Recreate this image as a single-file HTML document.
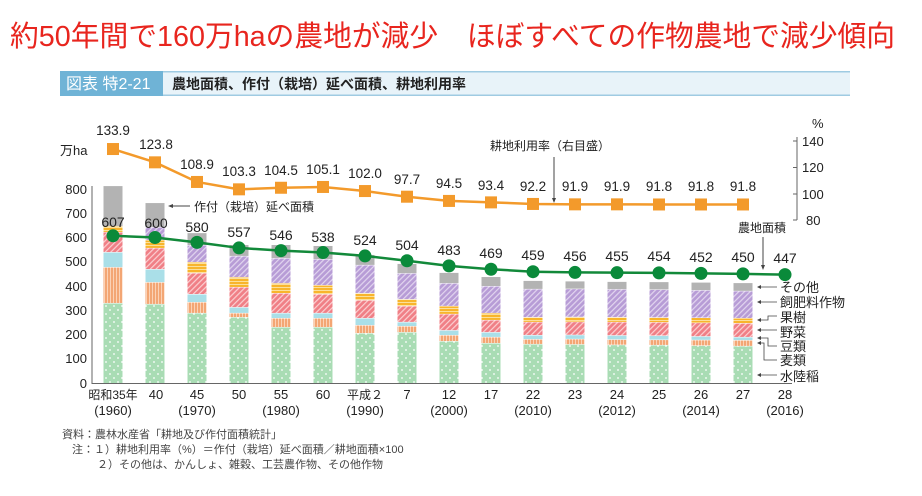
<!DOCTYPE html>
<html><head><meta charset="utf-8"><style>
body{margin:0;background:#fff;width:922px;height:496px;overflow:hidden;font-family:"Liberation Sans","Noto Sans CJK JP",sans-serif}
svg{display:block}
</style></head><body>
<svg id="s" width="922" height="496" xmlns="http://www.w3.org/2000/svg" font-family="Liberation Sans, Noto Sans CJK JP, sans-serif">
<defs>
<pattern id="pR" width="8" height="8" patternUnits="userSpaceOnUse"><rect width="8" height="8" fill="#a9dcb4"/><circle cx="2" cy="2" r="0.9" fill="#fff"/><circle cx="6" cy="6" r="0.9" fill="#fff"/></pattern>
<pattern id="pW" width="3" height="4" patternUnits="userSpaceOnUse"><rect width="3" height="4" fill="#f3a674"/><rect x="2" width="1" height="4" fill="#fbd2b6"/></pattern>
<pattern id="pB" width="4" height="4" patternUnits="userSpaceOnUse"><rect width="4" height="4" fill="#aadfe8"/></pattern>
<pattern id="pV" width="4" height="4" patternUnits="userSpaceOnUse" patternTransform="rotate(45)"><rect width="4" height="4" fill="#f07f86"/><rect width="1.2" height="4" fill="#fbd0d2"/></pattern>
<pattern id="pF" width="4" height="3" patternUnits="userSpaceOnUse"><rect width="4" height="3" fill="#f8b52c"/><rect y="2" width="4" height="1" fill="#fbe09a"/></pattern>
<pattern id="pD" width="4" height="4" patternUnits="userSpaceOnUse" patternTransform="rotate(45)"><rect width="4" height="4" fill="#b79cd6"/><rect width="1.2" height="4" fill="#e2d6ef"/></pattern>
</defs>
<text x="10" y="46" font-size="29" fill="#e8251e" textLength="885" lengthAdjust="spacingAndGlyphs">約50年間で160万haの農地が減少　ほぼすべての作物農地で減少傾向</text>
<rect x="60" y="71" width="790" height="25" fill="#e8f3f9"/>
<rect x="60" y="71" width="790" height="1.5" fill="#9fcbe2"/>
<rect x="60" y="94.5" width="790" height="1.5" fill="#9fcbe2"/>
<rect x="60" y="71" width="103" height="25" fill="#6fb3d6"/>
<text x="66" y="89" font-size="16" fill="#fff">図表 特2-21</text>
<text x="172" y="89" font-size="14" fill="#222" font-weight="bold">農地面積、作付（栽培）延べ面積、耕地利用率</text>
<g id="bars"></g>
<g font-size="13" fill="#222" text-anchor="end">
<text x="87" y="388">0</text><text x="87" y="363">100</text><text x="87" y="339">200</text><text x="87" y="315">300</text><text x="87" y="291">400</text><text x="87" y="266">500</text><text x="87" y="242">600</text><text x="87" y="218">700</text><text x="87" y="194">800</text>
</g>
<text x="60" y="155" font-size="13" fill="#222">万ha</text>
<line x1="92" y1="186" x2="92" y2="384" stroke="#666"/>
<line x1="92" y1="383.5" x2="792" y2="383.5" stroke="#666"/>
<line x1="797" y1="137" x2="797" y2="220" stroke="#666"/>
<g stroke="#666"><line x1="793" y1="141" x2="797" y2="141"/><line x1="793" y1="167.5" x2="797" y2="167.5"/><line x1="793" y1="194" x2="797" y2="194"/><line x1="793" y1="220" x2="797" y2="220"/></g>
<g font-size="13" fill="#222"><text x="802" y="146">140</text><text x="802" y="172">120</text><text x="802" y="199">100</text><text x="806" y="225">80</text><text x="812" y="128">%</text></g>
<g id="lines"></g>
<g font-size="13.5" fill="#222" text-anchor="middle">
<text x="113" y="135">133.9</text><text x="156" y="149">123.8</text><text x="197" y="169">108.9</text><text x="239" y="176">103.3</text><text x="281" y="175">104.5</text><text x="323" y="174">105.1</text><text x="365" y="178">102.0</text><text x="407" y="184">97.7</text><text x="449" y="188">94.5</text><text x="491" y="190">93.4</text><text x="533" y="191">92.2</text><text x="575" y="191">91.9</text><text x="617" y="191">91.9</text><text x="659" y="191">91.8</text><text x="701" y="191">91.8</text><text x="743" y="191">91.8</text>
</g>
<g font-size="14" fill="#222" text-anchor="middle">
<text x="113" y="227">607</text><text x="156" y="228">600</text><text x="197" y="232">580</text><text x="239" y="237">557</text><text x="281" y="240">546</text><text x="323" y="242">538</text><text x="365" y="245">524</text><text x="407" y="250">504</text><text x="449" y="255">483</text><text x="491" y="258">469</text><text x="533" y="260">459</text><text x="575" y="261">456</text><text x="617" y="261">455</text><text x="659" y="261">454</text><text x="701" y="262">452</text><text x="743" y="262">450</text><text x="785" y="263">447</text>
</g>
<g font-size="12" fill="#222">
<line x1="172" y1="206" x2="190" y2="206" stroke="#444"/><path d="M168 206l5-2v4z" fill="#444"/>
<text x="194" y="211">作付（栽培）延べ面積</text>
<text x="490" y="150">耕地利用率（右目盛）</text>
<line x1="554" y1="157" x2="554" y2="199" stroke="#444"/><path d="M554 203l-2-5h4z" fill="#444"/>
<text x="738" y="232">農地面積</text>
<line x1="763" y1="237" x2="763" y2="266" stroke="#444"/><path d="M763 270l-2-5h4z" fill="#444"/>
</g>
<g font-size="13" fill="#222">
<text x="780" y="292">その他</text><text x="780" y="307">飼肥料作物</text><text x="780" y="322">果樹</text><text x="780" y="337">野菜</text><text x="780" y="351">豆類</text><text x="780" y="365">麦類</text><text x="780" y="381">水陸稲</text>
</g>
<g stroke="#444" fill="none" stroke-width="0.8">
<path d="M760 287H777"/><path d="M760 302H777"/><path d="M760 320H768V316H777"/><path d="M760 330H777"/><path d="M760 338H768V346H777"/><path d="M760 343H764V360H777"/><path d="M760 375H777"/>
</g>
<g fill="#444">
<path d="M757 287l4-2v4z"/><path d="M757 302l4-2v4z"/><path d="M757 320l4-2v4z"/><path d="M757 330l4-2v4z"/><path d="M757 338l4-2v4z"/><path d="M757 343l4-2v4z"/><path d="M757 375l4-2v4z"/>
</g>
<g font-size="13" fill="#222" text-anchor="middle">
<text x="113" y="399" font-size="12">昭和35年</text><text x="156" y="399">40</text><text x="197" y="399">45</text><text x="239" y="399">50</text><text x="281" y="399">55</text><text x="323" y="399">60</text><text x="365" y="399" font-size="12">平成２</text><text x="407" y="399">7</text><text x="449" y="399">12</text><text x="491" y="399">17</text><text x="533" y="399">22</text><text x="575" y="399">23</text><text x="617" y="399">24</text><text x="659" y="399">25</text><text x="701" y="399">26</text><text x="743" y="399">27</text><text x="785" y="399">28</text>
<text x="113" y="415">(1960)</text><text x="197" y="415">(1970)</text><text x="281" y="415">(1980)</text><text x="365" y="415">(1990)</text><text x="449" y="415">(2000)</text><text x="533" y="415">(2010)</text><text x="617" y="415">(2012)</text><text x="701" y="415">(2014)</text><text x="785" y="415">(2016)</text>
</g>
<g font-size="11" fill="#444">
<text x="62" y="438">資料：農林水産省「耕地及び作付面積統計」</text>
<text x="72" y="453">注：１）耕地利用率（%）＝作付（栽培）延べ面積／耕地面積×100</text>
<text x="97" y="468">２）その他は、かんしょ、雑穀、工芸農作物、その他作物</text>
</g>
</svg>
<script>
var D=[[330,478,540,623,647,647,812],[326,416,470,557,590,643,742],[289,334,367,454,499,569,618],[272,289,313,396,437,524,569],[231,268,289,371,412,515,569],[231,268,289,367,404,511,565],[206,239,268,342,371,487,528],[210,235,252,318,346,453,491],[173,198,218,285,318,412,454],[165,190,210,260,289,400,437],[161,181,198,252,272,388,421],[160,182,199,253,273,389,419],[158,180,197,252,272,387,417],[157,179,196,251,271,386,416],[155,178,193,249,270,383,414],[153,177,190,247,268,380,412]];
var F=['url(#pR)','url(#pW)','url(#pB)','url(#pV)','url(#pF)','url(#pD)','#b3b3b3'];
var ns='http://www.w3.org/2000/svg',g=document.getElementById('bars'),L=document.getElementById('lines');
function Y(v){return 383-v*0.2425}
function P(p){return 141+(140-p)*1.317}
function X(i){return 113+i*42}
function el(t,a,p){var e=document.createElementNS(ns,t);for(var k in a)e.setAttribute(k,a[k]);p.appendChild(e);return e}
D.forEach(function(d,i){var prev=0;d.forEach(function(v,j){if(v>prev){el('rect',{x:X(i)-9.5,y:Y(v),width:19,height:Y(prev)-Y(v),fill:F[j]},g);if(j<6)el('rect',{x:X(i)-9.5,y:Y(v)-0.5,width:19,height:1,fill:'#fff'},g);}prev=v;});});
var A=[607,600,580,557,546,538,524,504,483,469,459,456,455,454,452,450,447];
var U=[133.9,123.8,108.9,103.3,104.5,105.1,102.0,97.7,94.5,93.4,92.2,91.9,91.9,91.8,91.8,91.8];
el('polyline',{points:A.map(function(v,i){return X(i)+','+Y(v)}).join(' '),fill:'none',stroke:'#12893a','stroke-width':2.5},L);
A.forEach(function(v,i){el('circle',{cx:X(i),cy:Y(v),r:6.5,fill:'#0a8a3a'},L)});
el('polyline',{points:U.map(function(v,i){return X(i)+','+P(v)}).join(' '),fill:'none',stroke:'#f39a2b','stroke-width':2.5},L);
U.forEach(function(v,i){el('rect',{x:X(i)-6,y:P(v)-6,width:12,height:12,fill:'#f39a2b'},L)});
</script>
</body></html>
